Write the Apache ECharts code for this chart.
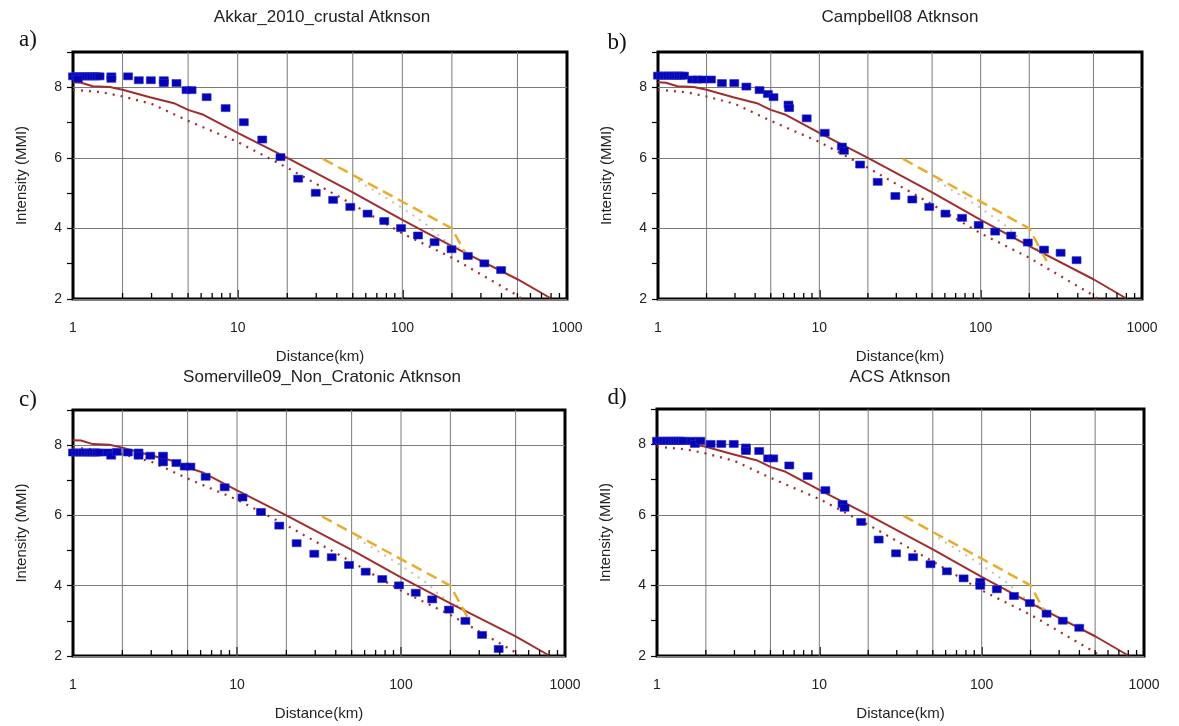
<!DOCTYPE html>
<html>
<head>
<meta charset="utf-8">
<script src="https://cdn.jsdelivr.net/npm/echarts@6/dist/echarts.min.js"></script>
<style>
html,body{margin:0;padding:0;background:#fff;}
#chart{width:1179px;height:726px;}
</style>
</head>
<body>
<div id="chart"></div>
<script>
// ---------- data ----------
const panelTitles = ['Akkar_2010_crustal Atknson', 'Campbell08 Atknson', 'Somerville09_Non_Cratonic Atknson', 'ACS Atknson'];
const panelTags = ['a)', 'b)', 'c)', 'd)'];
const xTickLabels = [1, 10, 100, 1000];
const yTickLabels = [2, 4, 6, 8];
const xGridValues = [2, 5, 10, 20, 50, 100, 200, 500];
const xMinorTickValues = [2,3,4,5,6,7,8,9,20,30,40,50,60,70,80,90,200,300,400,500,600,700,800,900];

// model curves (distance km, MMI)
const modelSolid = [[1.0,8.14],[1.12,8.13],[1.32,8.03],[1.67,8.01],[2.0,7.93],[2.93,7.72],[4.1,7.55],[5.0,7.36],[6.2,7.22],[10,6.71],[20,6.0],[50,5.02],[100,4.24],[200,3.5],[500,2.56],[810,2.0]];
const modelDotted = [[1.0,7.93],[1.5,7.86],[2.0,7.74],[3.0,7.53],[5.0,7.05],[10,6.45],[20,5.72],[50,4.68],[100,3.86],[200,3.17],[500,2.1],[530,2.0]];
const modelDashed = [[33,5.97],[200,4.0],[260,3.02]];
const modelFaint = [[54,5.35],[100,4.58],[145,4.06],[175,3.7],[250,3.3]];

// observed binned intensities (distance km, MMI)
const obsA = [[1.0,8.31],[1.05,8.31],[1.1,8.31],[1.15,8.31],[1.2,8.31],[1.25,8.31],[1.3,8.31],[1.35,8.31],[1.4,8.31],[1.45,8.31],[1.07,8.24],
  [1.71,8.31],[1.71,8.24],[2.16,8.31],[2.51,8.20],[2.97,8.20],[3.56,8.20],[3.56,8.12],[4.25,8.12],[4.89,7.92],[5.25,7.92],[6.48,7.72],[8.45,7.41],
  [10.9,7.01],[14.1,6.52],[18.2,6.02],[23.3,5.41],[29.8,5.01],[38.0,4.81],[48.3,4.61],[61.5,4.42],[77.7,4.21],[98.2,4.01],[124.5,3.80],[157,3.61],[199,3.41],[250,3.22],[315,3.01],[398,2.82]];
const obsB = [[1.0,8.33],[1.05,8.33],[1.1,8.33],[1.15,8.33],[1.2,8.33],[1.25,8.33],[1.3,8.33],[1.35,8.33],[1.4,8.33],[1.45,8.33],
  [1.63,8.22],[1.75,8.22],[1.88,8.22],[2.13,8.22],[2.49,8.12],[2.97,8.12],[3.53,8.02],[4.26,7.92],[4.8,7.81],[5.2,7.72],[6.44,7.51],[6.5,7.41],[8.35,7.12],
  [10.8,6.71],[13.8,6.32],[14.2,6.20],[17.9,5.81],[23.0,5.32],[29.6,4.92],[37.7,4.82],[48,4.61],[60.5,4.42],[76.7,4.30],[97.2,4.10],[123,3.91],[154.6,3.80],[196,3.60],[247,3.40],[313,3.31],[393,3.10]];
const obsC = [[1.0,7.79],[1.05,7.79],[1.1,7.79],[1.15,7.79],[1.2,7.79],[1.25,7.79],[1.3,7.79],[1.35,7.79],[1.4,7.79],[1.45,7.79],
  [1.63,7.79],[1.71,7.70],[1.85,7.81],[2.16,7.79],[2.51,7.79],[2.51,7.70],[2.96,7.70],[3.54,7.70],[3.54,7.51],[4.27,7.49],[4.8,7.39],[5.2,7.39],[6.44,7.10],[8.41,6.80],
  [10.8,6.51],[14.0,6.10],[18.1,5.71],[23.1,5.21],[29.6,4.91],[37.8,4.81],[48.2,4.59],[60.9,4.40],[76.9,4.19],[97.2,4.01],[123,3.80],[155,3.61],[196,3.32],[247,3.0],[312,2.60],[394,2.20]];
const obsD = [[1.0,8.10],[1.05,8.10],[1.1,8.10],[1.15,8.10],[1.2,8.10],[1.25,8.10],[1.3,8.10],[1.35,8.10],[1.4,8.10],[1.45,8.10],
  [1.63,8.10],[1.71,8.01],[1.85,8.10],[2.14,8.01],[2.49,8.01],[2.97,8.01],[3.53,7.91],[3.53,7.81],[4.26,7.81],[4.84,7.60],[5.2,7.60],[6.53,7.40],[8.47,7.10],
  [10.9,6.70],[13.9,6.31],[14.3,6.20],[18.1,5.80],[23.2,5.30],[29.7,4.91],[37.8,4.80],[48.4,4.60],[61.1,4.40],[77.4,4.20],[98,4.10],[98,3.99],[124,3.89],[158,3.70],[198,3.50],[251,3.20],[316,3.0],[399,2.80]];
const observations = [obsA, obsB, obsC, obsD];

// ---------- layout ----------
const grids = [
  {left: 73, top: 52, width: 494, height: 247},
  {left: 658, top: 52, width: 484, height: 247},
  {left: 73, top: 410, width: 492, height: 246},
  {left: 657, top: 409, width: 487, height: 247}
];
const titlePos = [[322, 17], [900, 17], [322, 377], [900, 377]];
const tagPos = [[28, 40], [617, 43], [28, 400], [617, 398]];

const SANS = '"Liberation Sans", Arial, Helvetica, sans-serif';
const SERIF = '"Liberation Serif", "Times New Roman", serif';
const RED = '#a12d2d';
const BLUE = '#0404b4';
const ORANGE = '#e9ad2e';

const xAxes = [], yAxes = [], series = [], graphics = [];

grids.forEach((g, i) => {
  xAxes.push({
    type: 'log', logBase: 10, min: xTickLabels[0], max: xTickLabels[xTickLabels.length - 1], gridIndex: i,
    axisLine: {show: false},
    axisTick: {show: true, inside: true, length: 9, lineStyle: {color: '#000', width: 1.5}},
    axisLabel: {fontSize: 14, color: '#222', margin: 22, fontFamily: SANS, formatter: v => String(Math.round(v))},
    splitLine: {show: false},
    name: 'Distance(km)', nameLocation: 'middle', nameGap: 50,
    nameTextStyle: {fontSize: 15, color: '#222', fontFamily: SANS}
  });
  yAxes.push({
    type: 'value', min: 2, max: 9, interval: 1, gridIndex: i,
    axisLine: {show: false},
    axisTick: {show: true, inside: false, length: 6, lineStyle: {color: '#000', width: 1.2}},
    axisLabel: {fontSize: 14, color: '#222', margin: 11, fontFamily: SANS,
      formatter: v => (yTickLabels.indexOf(v) >= 0 ? String(v) : '')},
    splitLine: {show: true, lineStyle: {color: ['#7a7a7a', 'rgba(0,0,0,0)'], width: 1}},
    name: 'Intensity (MMI)', nameLocation: 'middle', nameGap: 44, nameRotate: 90,
    nameTextStyle: {fontSize: 15, color: '#222', fontFamily: SANS}
  });

  // vertical grid lines
  series.push({
    type: 'custom', xAxisIndex: i, yAxisIndex: i, z: 1, silent: true,
    data: xGridValues.map(v => [v, 2]),
    encode: {x: 0, y: 1},
    renderItem: (params, api) => {
      const p0 = api.coord([api.value(0), 2]);
      const p1 = api.coord([api.value(0), 9]);
      return {type: 'line', shape: {x1: p0[0], y1: p0[1], x2: p1[0], y2: p1[1]},
        style: {stroke: '#7a7a7a', lineWidth: 1}};
    }
  });
  // minor ticks on bottom axis
  series.push({
    type: 'custom', xAxisIndex: i, yAxisIndex: i, z: 5, silent: true,
    data: xMinorTickValues.map(v => [v, 2]),
    encode: {x: 0, y: 1},
    renderItem: (params, api) => {
      const p0 = api.coord([api.value(0), 2]);
      return {type: 'line', shape: {x1: p0[0], y1: p0[1], x2: p0[0], y2: p0[1] - 6},
        style: {stroke: '#000', lineWidth: 1.3}};
    }
  });
  series.push({
    type: 'line', xAxisIndex: i, yAxisIndex: i, z: 3, data: modelFaint, symbol: 'none',
    lineStyle: {color: '#cbbfae', width: 2, type: [2, 6]}
  });
  series.push({
    type: 'line', xAxisIndex: i, yAxisIndex: i, z: 3, data: modelDotted, symbol: 'none',
    lineStyle: {color: RED, width: 2.2, type: [2, 6]}
  });
  series.push({
    type: 'line', xAxisIndex: i, yAxisIndex: i, z: 3, data: modelSolid, symbol: 'none',
    lineStyle: {color: RED, width: 2}
  });
  series.push({
    type: 'line', xAxisIndex: i, yAxisIndex: i, z: 3, data: modelDashed, symbol: 'none',
    lineStyle: {color: ORANGE, width: 2.5, type: [11, 6]}
  });
  series.push({
    type: 'scatter', xAxisIndex: i, yAxisIndex: i, z: 4, data: observations[i],
    symbol: 'rect', symbolSize: [9, 7],
    itemStyle: {color: BLUE, borderColor: '#2a2ad0', borderWidth: 0.6, opacity: 1}
  });

  graphics.push({
    type: 'text', x: titlePos[i][0], y: titlePos[i][1],
    style: {text: panelTitles[i], font: '17px ' + SANS, fill: '#222', align: 'center', verticalAlign: 'middle'}
  });
  graphics.push({
    type: 'text', x: tagPos[i][0], y: tagPos[i][1],
    style: {text: panelTags[i], font: '23px ' + SERIF, fill: '#111', align: 'center', verticalAlign: 'middle'}
  });
});

const chart = echarts.init(document.getElementById('chart'), null, {renderer: 'canvas'});
chart.setOption({
  animation: false,
  backgroundColor: '#fff',
  grid: grids.map(g => Object.assign({show: true, borderColor: '#000', borderWidth: 3, backgroundColor: 'transparent'}, g)),
  xAxis: xAxes,
  yAxis: yAxes,
  series: series,
  graphic: graphics
});
</script>
</body>
</html>
